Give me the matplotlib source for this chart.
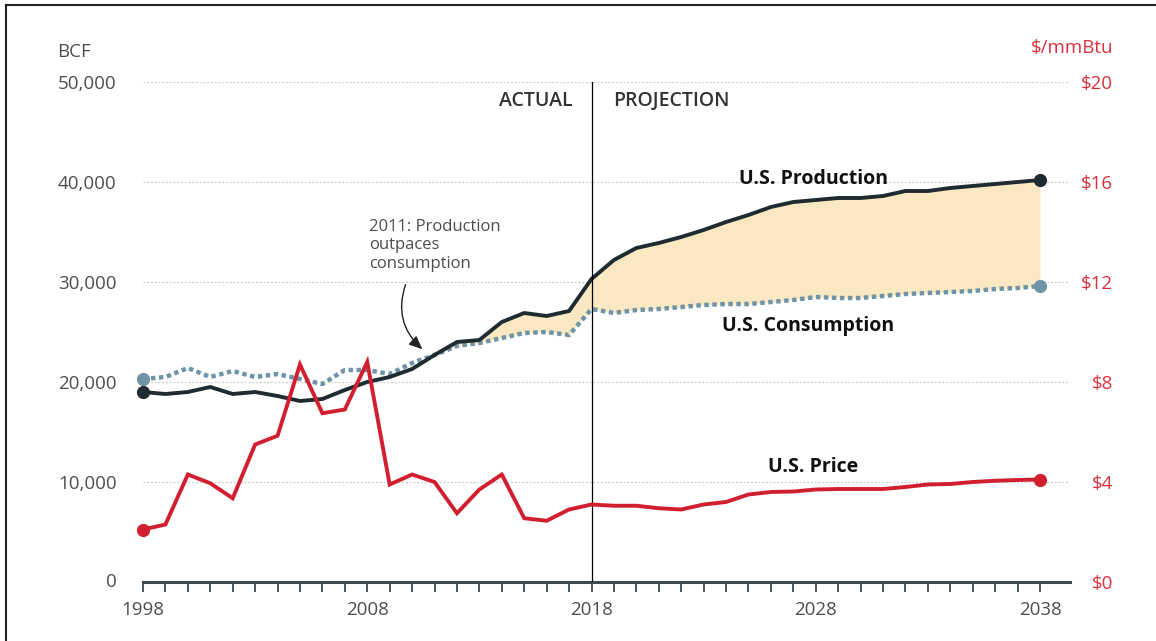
import matplotlib
matplotlib.use("Agg")
import matplotlib.pyplot as plt
from matplotlib.lines import Line2D

# ---- data ----
years = list(range(1998, 2039))

production = [19000, 18800, 19000, 19500, 18800, 19000, 18600, 18100, 18300, 19200,
              20000, 20500, 21300, 22700, 24000, 24200, 26000, 26900, 26600, 27100,
              30300, 32200, 33400, 33900, 34500, 35200, 36000, 36700, 37500, 38000,
              38200, 38400, 38400, 38600, 39100, 39100, 39400, 39600, 39800, 40000,
              40200]

consumption = [20300, 20500, 21400, 20500, 21100, 20500, 20800, 20300, 19800, 21200,
               21200, 20800, 21900, 22700, 23600, 23900, 24400, 24900, 25000, 24700,
               27300, 26900, 27200, 27300, 27500, 27700, 27800, 27800, 28000, 28200,
               28500, 28400, 28400, 28600, 28800, 28900, 29000, 29100, 29300, 29400,
               29600]

price = [2.1, 2.3, 4.3, 3.95, 3.35, 5.5, 5.85, 8.7, 6.75, 6.9,
         8.8, 3.9, 4.3, 4.0, 2.75, 3.7, 4.3, 2.55, 2.45, 2.9,
         3.1, 3.05, 3.05, 2.95, 2.9, 3.1, 3.2, 3.5, 3.6, 3.62,
         3.7, 3.72, 3.72, 3.72, 3.8, 3.9, 3.92, 4.0, 4.05, 4.08,
         4.1]

bcf_ticks = [10000, 20000, 30000, 40000, 50000]
bcf_labels = ["10,000", "20,000", "30,000", "40,000", "50,000"]
price_ticks = [0, 4, 8, 12, 16, 20]
price_labels = ["$0", "$4", "$8", "$12", "$16", "$20"]
year_ticks = [1998, 2008, 2018, 2028, 2038]

DARK = "#1e2b30"
BLUE = "#6f94a8"
RED = "#d21f30"
RED_TXT = "#d9313e"
FILL = "#fae8c2"
GREY = "#4d4d4d"

plt.rcParams["font.family"] = ["Open Sans", "DejaVu Sans"]

W, H = 1156, 641
fig = plt.figure(figsize=(W / 100, H / 100), dpi=100)
fig.patch.set_facecolor("white")

x0, x1 = 143, 1070
y0, y1 = 582, 82
ax = fig.add_axes([x0 / W, (H - y0) / H, (x1 - x0) / W, (y0 - y1) / H])
px_per_year = (1040 - 143) / 40.0
ax.set_xlim(1998, 1998 + (x1 - x0) / px_per_year)
ax.set_ylim(0, 50000)

# shaded surplus between production and consumption
ax.fill_between(years, production, consumption,
                where=[p >= c for p, c in zip(production, consumption)],
                interpolate=True, color=FILL, lw=0, zorder=1)

ax.plot(years, consumption, color=BLUE, lw=3.2, ls=(0, (1, 0.8)), zorder=3,
        dash_capstyle="butt")
ax.plot(years, production, color=DARK, lw=2.8, zorder=4, solid_joinstyle="round")
ax.plot([years[0], years[-1]], [consumption[0], consumption[-1]], "o", color=BLUE,
        ms=8.5, zorder=5, clip_on=False)
ax.plot([years[0], years[-1]], [production[0], production[-1]], "o", color=DARK,
        ms=8.5, zorder=5, clip_on=False)

ax.axvline(2018, color="black", lw=0.9, zorder=6)

# grid + axes styling
ax.set_yticks(bcf_ticks)
ax.set_yticklabels(bcf_labels)
ax.yaxis.grid(True, color="#cccccc", ls=(0, (1.5, 1.5)), lw=0.9)
ax.set_axisbelow(True)
for s in ["top", "right", "left"]:
    ax.spines[s].set_visible(False)
ax.spines["bottom"].set_color("#3a4a50")
ax.spines["bottom"].set_linewidth(2.2)
ax.tick_params(axis="y", length=0, pad=19, labelsize=13.5, labelcolor=GREY)

ax.set_xticks(year_ticks)
ax.set_xticks(years, minor=True)
ax.tick_params(axis="x", which="both", direction="out", length=7, width=1.3,
               color="#3a4a50", labelsize=13.5, labelcolor=GREY, pad=7)
fig.text(117 / W, (H - 582) / H, "0", ha="right", va="center",
         fontsize=13.5, color=GREY)

# price on the right axis
ax2 = ax.twinx()
ax2.set_ylim(0, 20)
ax2.plot(years, price, color=RED, lw=2.8, zorder=4, solid_joinstyle="miter")
ax2.plot([years[0], years[-1]], [price[0], price[-1]], "o", color=RED, ms=8.5,
         clip_on=False)
ax2.set_yticks(price_ticks)
ax2.set_yticklabels(price_labels)
for lbl in ax2.get_yticklabels():
    lbl.set_horizontalalignment("right")
ax2.tick_params(axis="y", length=0, pad=31, labelsize=13.5, labelcolor=RED_TXT)
for s in ["top", "right", "left", "bottom"]:
    ax2.spines[s].set_visible(False)

# text labels
ax.text(2017.15, 48100, "ACTUAL", ha="right", va="center", fontsize=14,
        fontweight="semibold", color="#333333")
ax.text(2018.95, 48100, "PROJECTION", ha="left", va="center", fontsize=14,
        fontweight="semibold", color="#333333")
ax.text(2027.9, 40300, "U.S. Production", ha="center", va="center", fontsize=14,
        fontweight="bold", color="#111111")
ax.text(2027.65, 25600, "U.S. Consumption", ha="center", va="center", fontsize=14,
        fontweight="bold", color="#111111")
ax.text(2027.9, 11500, "U.S. Price", ha="center", va="center", fontsize=14,
        fontweight="bold", color="#111111")

ax.text(2008.1, 36300, "2011: Production\noutpaces\nconsumption", ha="left",
        va="top", fontsize=12, color=GREY, linespacing=1.2)
ax.annotate("", xy=(2010.55, 23100), xytext=(2009.75, 30000),
            arrowprops=dict(arrowstyle="-|>,head_length=0.8,head_width=0.35",
                            color="#222222", lw=1.0,
                            connectionstyle="arc3,rad=0.35"))

fig.text(57 / W, (H - 52) / H, "BCF", ha="left", va="center", fontsize=13.5,
         color=GREY)
fig.text(1113 / W, (H - 48) / H, "$/mmBtu", ha="right", va="center",
         fontsize=13.5, color=RED_TXT)

# frame lines (top and left)
fig.add_artist(Line2D([6 / W, 1], [1 - 5 / H, 1 - 5 / H], color="#222222",
                      lw=1.5, transform=fig.transFigure))
fig.add_artist(Line2D([6 / W, 6 / W], [0, 1 - 5 / H], color="#222222",
                      lw=1.5, transform=fig.transFigure))

fig.savefig("out.png", dpi=100)
